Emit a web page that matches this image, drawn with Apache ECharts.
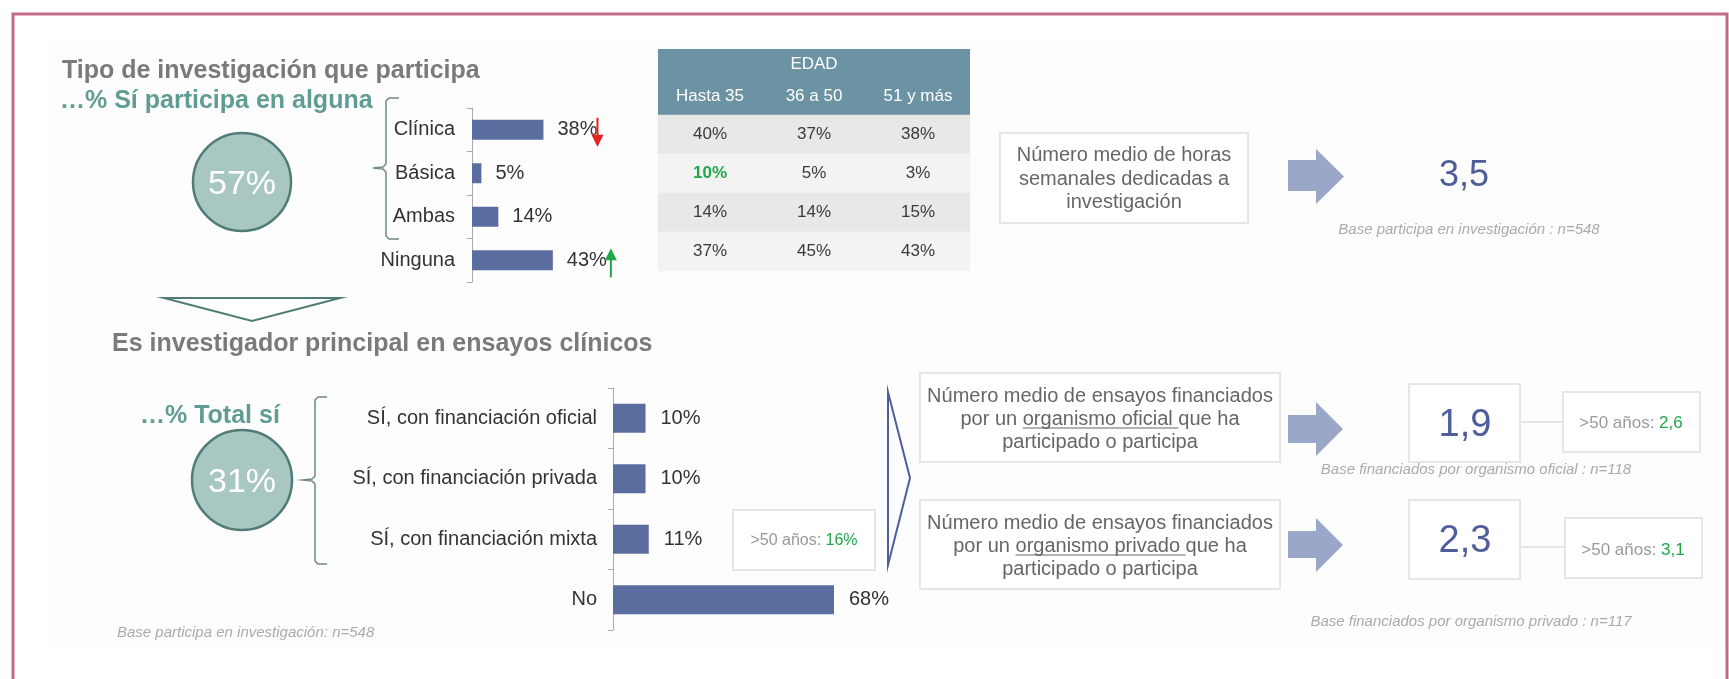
<!DOCTYPE html>
<html>
<head>
<meta charset="utf-8">
<script src="https://cdn.jsdelivr.net/npm/echarts@6/dist/echarts.min.js"></script>
<style>
  html, body { margin: 0; padding: 0; background: #fff; }
  #main { width: 1729px; height: 679px; }
</style>
</head>
<body>
<div id="main"></div>
<script>
// datos
var tipoCategorias = ['Clínica', 'Básica', 'Ambas', 'Ninguna'];
var tipoValores = [38, 5, 14, 43];

var edadGrupos = ['Hasta 35', '36 a 50', '51 y más'];
var edadHasta35 = [40, 10, 14, 37];
var edad36a50 = [37, 5, 14, 45];
var edad51mas = [38, 3, 15, 43];

var ensayoCategorias = ['SÍ, con financiación oficial', 'SÍ, con financiación privada', 'SÍ, con financiación mixta', 'No'];
var ensayoValores = [10, 10, 11, 68];

var pctParticipa = 57;
var pctTotalSi = 31;
var mixtaMayores50 = 16;
var horasSemanales = '3,5';
var mediaOficial = '1,9';
var mayores50Oficial = '2,6';
var mediaPrivado = '2,3';
var mayores50Privado = '3,1';

var FONT = '"Liberation Sans", Arial, sans-serif';
var BAR = '#5b6c9f';
var TEAL = '#5f9c93';
var GREEN = '#1fa84a';
var BLUE_TXT = '#4d5e9b';
var ARROW = '#9ba7c8';

var myChart = echarts.init(document.getElementById('main'));

// tabla por edad -> heatmap
var filaColores = ['#e8e8e8', '#f3f3f3', '#e8e8e8', '#f3f3f3'];
var tabla = [];
[edadHasta35, edad36a50, edad51mas].forEach(function (col, ci) {
    col.forEach(function (v, ri) {
        var item = { value: [ci, ri, v], itemStyle: { color: filaColores[ri] } };
        if (ci === 0 && ri === 1) {
            item.label = { color: GREEN, fontWeight: 'bold' };
        }
        tabla.push(item);
    });
});

function txt(x, y, text, o) {
    o = o || {};
    return {
        type: 'text', x: x, y: y, z: o.z || 10,
        style: {
            text: text, fill: o.color || '#666', fontSize: o.size || 20,
            fontWeight: o.weight || 'normal', fontStyle: o.style || 'normal',
            fontFamily: FONT, textAlign: o.align || 'left', textVerticalAlign: 'middle',
            rich: o.rich
        }
    };
}
function box(x, y, w, h) {
    return { type: 'rect', z: 5, shape: { x: x, y: y, width: w, height: h },
        style: { fill: '#fff', stroke: '#e6e6e6', lineWidth: 2 } };
}
function blockArrow(x0, x1, hx, s0, s1, h0, h1) {
    var m = (h0 + h1) / 2;
    return { type: 'polygon', z: 5,
        shape: { points: [[x0, s0], [hx, s0], [hx, h0], [x1, m], [hx, h1], [hx, s1], [x0, s1]] },
        style: { fill: ARROW } };
}
function circle(cx, cy, r, label) {
    return [
        { type: 'circle', z: 5, shape: { cx: cx, cy: cy, r: r },
          style: { fill: '#a8c7c3', stroke: '#4f7d76', lineWidth: 2.5 } },
        txt(cx, cy + 3, label, { color: '#fff', size: 34, align: 'center', z: 6 })
    ];
}
// llave: x de la línea, extremos, punta
function brace(x, y0, y1, ym, hook, tip) {
    return { type: 'polyline', z: 5,
        shape: { points: [[x + hook, y0], [x + 3, y0], [x, y0 + 3], [x, ym - 4], [x - 3, ym - 1], [x - tip, ym],
                          [x - 3, ym + 1], [x, ym + 4], [x, y1 - 3], [x + 3, y1], [x + hook, y1]] },
        style: { stroke: '#6f8883', lineWidth: 1.5, fill: null } };
}

var ctx = document.createElement('canvas').getContext('2d');
ctx.font = '20px ' + FONT;
function underline(cx, cy, pre, under, post) {
    var total = ctx.measureText(pre + under + post).width;
    var start = cx - total / 2 + ctx.measureText(pre).width;
    var w = ctx.measureText(under).width;
    return { type: 'line', z: 10, shape: { x1: start, y1: cy + 9, x2: start + w, y2: cy + 9 },
        style: { stroke: '#666', lineWidth: 1 } };
}

var graphics = [
    // marco y fondo
    { type: 'rect', z: -1, shape: { x: 47, y: 38, width: 1682, height: 611 }, style: { fill: '#fdfdfd' } },
    { type: 'polyline', z: 20, shape: { points: [[13, 679], [13, 14], [1727, 14], [1727, 679]] },
      style: { stroke: '#c26b82', lineWidth: 3, fill: null } },

    // bloque superior
    txt(62, 71, 'Tipo de investigación que participa', { color: '#7a7a7a', size: 25, weight: 'bold' }),
    txt(60, 101, '…% Sí participa en alguna', { color: TEAL, size: 25, weight: 'bold' }),
    brace(386, 98, 239, 168, 13, 13),

    // cabecera tabla
    { type: 'rect', z: 1, shape: { x: 658, y: 49, width: 312, height: 66 }, style: { fill: '#6b93a3' } },
    txt(814, 64, 'EDAD', { color: '#fff', size: 17, align: 'center' }),

    box(1000, 133, 248, 90),
    txt(1124, 155, 'Número medio de horas', { align: 'center' }),
    txt(1124, 179, 'semanales dedicadas a', { align: 'center' }),
    txt(1124, 202, 'investigación', { align: 'center' }),
    blockArrow(1288, 1344, 1316, 160, 191, 149, 204),
    txt(1464, 176, horasSemanales, { color: BLUE_TXT, size: 36, align: 'center' }),
    txt(1469, 230, 'Base participa en investigación : n=548', { color: '#aaa', size: 15, style: 'italic', align: 'center' }),

    // separador
    { type: 'polygon', z: 5, shape: { points: [[164, 298], [340, 298], [252, 321]] },
      style: { fill: '#fff', stroke: '#4f7d76', lineWidth: 2 } },

    // bloque inferior
    txt(112, 344, 'Es investigador principal en ensayos clínicos', { color: '#7a7a7a', size: 25, weight: 'bold' }),
    txt(140, 416, '…% Total sí', { color: TEAL, size: 25, weight: 'bold' }),
    brace(315, 397, 564, 480, 12, 12),
    txt(117, 633, 'Base participa en investigación: n=548', { color: '#aaa', size: 15, style: 'italic' }),

    box(733, 510, 142, 60),
    txt(804, 541, '{g|>50 años: }{v|' + mixtaMayores50 + '%}', { align: 'center',
        rich: { g: { fill: '#999', fontSize: 16, fontFamily: FONT }, v: { fill: GREEN, fontSize: 16, fontFamily: FONT } } }),

    { type: 'polygon', z: 5, shape: { points: [[888, 392], [910, 478], [888, 565]] },
      style: { fill: null, stroke: BLUE_TXT, lineWidth: 2 } },

    box(920, 373, 360, 89),
    txt(1100, 396, 'Número medio de ensayos financiados', { align: 'center' }),
    txt(1100, 419, 'por un organismo oficial que ha', { align: 'center' }),
    underline(1100, 419, 'por un ', 'organismo oficial ', 'que ha'),
    txt(1100, 442, 'participado o participa', { align: 'center' }),
    blockArrow(1288, 1343, 1316, 415, 443, 402, 456),

    box(920, 500, 360, 89),
    txt(1100, 523, 'Número medio de ensayos financiados', { align: 'center' }),
    txt(1100, 546, 'por un organismo privado que ha', { align: 'center' }),
    underline(1100, 546, 'por un ', 'organismo privado ', 'que ha'),
    txt(1100, 569, 'participado o participa', { align: 'center' }),
    blockArrow(1288, 1343, 1316, 531, 558, 518, 572),

    box(1409, 384, 111, 78),
    txt(1465, 426, mediaOficial, { color: BLUE_TXT, size: 38, align: 'center' }),
    { type: 'line', z: 4, shape: { x1: 1520, y1: 422, x2: 1563, y2: 422 }, style: { stroke: '#ddd', lineWidth: 1.5 } },
    box(1563, 392, 137, 60),
    txt(1631, 423, '{g|>50 años: }{v|' + mayores50Oficial + '}', { align: 'center',
        rich: { g: { fill: '#999', fontSize: 17, fontFamily: FONT }, v: { fill: GREEN, fontSize: 17, fontFamily: FONT } } }),
    txt(1476, 470, 'Base financiados por organismo oficial : n=118', { color: '#aaa', size: 15, style: 'italic', align: 'center' }),

    box(1409, 500, 111, 79),
    txt(1465, 542, mediaPrivado, { color: BLUE_TXT, size: 38, align: 'center' }),
    { type: 'line', z: 4, shape: { x1: 1520, y1: 547, x2: 1565, y2: 547 }, style: { stroke: '#ddd', lineWidth: 1.5 } },
    box(1565, 518, 137, 60),
    txt(1633, 550, '{g|>50 años: }{v|' + mayores50Privado + '}', { align: 'center',
        rich: { g: { fill: '#999', fontSize: 17, fontFamily: FONT }, v: { fill: GREEN, fontSize: 17, fontFamily: FONT } } }),
    txt(1471, 622, 'Base financiados por organismo privado : n=117', { color: '#aaa', size: 15, style: 'italic', align: 'center' })
].concat(circle(242, 182, 49, pctParticipa + '%'), circle(242, 480, 50, pctTotalSi + '%'));

var catAxis = function (gi, data, margin) {
    return {
        type: 'category', gridIndex: gi, data: data, inverse: true,
        axisLine: { show: true, lineStyle: { color: '#aaa', width: 1 } },
        axisTick: { show: true, length: 5, lineStyle: { color: '#aaa' } },
        axisLabel: { color: '#333', fontSize: 20, fontFamily: FONT, margin: margin }
    };
};

var option = {
    animation: false,
    textStyle: { fontFamily: FONT },
    grid: [
        { left: 472, top: 108, width: 188, height: 174 },
        { left: 613, top: 388, width: 325, height: 242 },
        { left: 658, top: 115, width: 312, height: 156 }
    ],
    xAxis: [
        { type: 'value', gridIndex: 0, min: 0, max: 100, show: false },
        { type: 'value', gridIndex: 1, min: 0, max: 100, show: false },
        { type: 'category', gridIndex: 2, data: edadGrupos, position: 'top', z: 5,
          axisLine: { show: false }, axisTick: { show: false },
          axisLabel: { color: '#fff', fontSize: 17, fontFamily: FONT, margin: 10 } }
    ],
    yAxis: [
        catAxis(0, tipoCategorias, 17),
        catAxis(1, ensayoCategorias, 16),
        { type: 'category', gridIndex: 2, data: tipoCategorias, inverse: true, show: false }
    ],
    series: [
        { type: 'bar', xAxisIndex: 0, yAxisIndex: 0, data: tipoValores, barWidth: 20,
          itemStyle: { color: BAR },
          label: { show: true, position: 'right', distance: 14, formatter: '{c}%', color: '#333', fontSize: 20, fontFamily: FONT } },
        { type: 'bar', xAxisIndex: 1, yAxisIndex: 1, data: ensayoValores, barWidth: 29,
          itemStyle: { color: BAR },
          label: { show: true, position: 'right', distance: 15, formatter: '{c}%', color: '#333', fontSize: 20, fontFamily: FONT } },
        { type: 'heatmap', xAxisIndex: 2, yAxisIndex: 2, data: tabla,
          label: { show: true, formatter: function (p) { return p.value[2] + '%'; }, color: '#3a3a3a', fontSize: 17, fontFamily: FONT } }
    ],
    graphic: graphics
};

myChart.setOption(option);

// flechas de tendencia junto a las etiquetas
function trendArrow(idx, up, gap, color) {
    var p = myChart.convertToPixel({ gridIndex: 0 }, [tipoValores[idx], tipoCategorias[idx]]);
    var x = p[0] + 14 + ctx.measureText(tipoValores[idx] + '%').width + gap;
    var top = p[1] - 12, bot = p[1] + 17;
    var head = up ? [[x - 6, top + 12], [x + 6, top + 12], [x, top]] : [[x - 6, bot - 12], [x + 6, bot - 12], [x, bot]];
    return [
        { type: 'line', z: 10, shape: up ? { x1: x, y1: top + 10, x2: x, y2: bot } : { x1: x, y1: top, x2: x, y2: bot - 10 },
          style: { stroke: color, lineWidth: 2 } },
        { type: 'polygon', z: 10, shape: { points: head }, style: { fill: color } }
    ];
}
myChart.setOption({
    graphic: graphics.concat(trendArrow(0, false, 0, '#e8231e'), trendArrow(3, true, 4, GREEN))
});
</script>
</body>
</html>
